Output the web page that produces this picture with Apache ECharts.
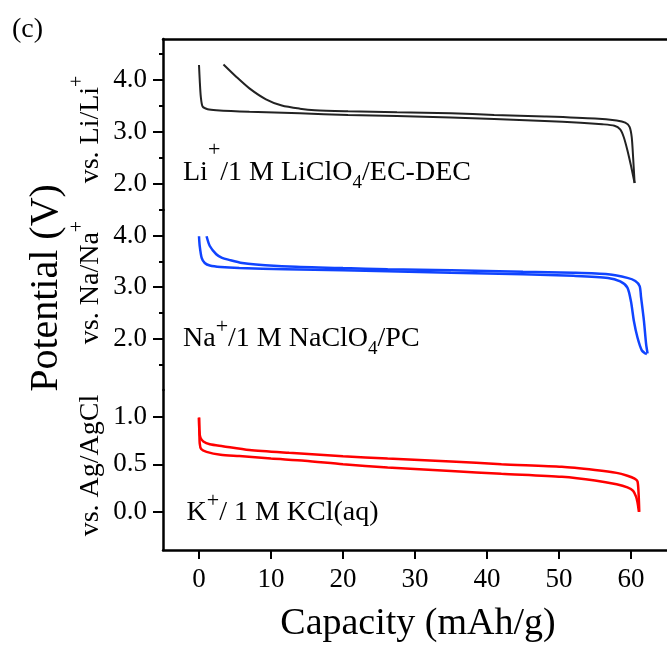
<!DOCTYPE html>
<html>
<head>
<meta charset="utf-8">
<script src="https://cdn.jsdelivr.net/npm/echarts@6/dist/echarts.min.js"></script>
<style>
  html, body { margin: 0; padding: 0; background: #fff; }
  #chart { width: 667px; height: 646px; }
</style>
</head>
<body>
<div id="chart"></div>
<script>
// Capacity (mAh/g) vs potential (V) for three electrolytes

const capacityTicks = [0, 10, 20, 30, 40, 50, 60];
const liTicks = [2.0, 3.0, 4.0];
const liMinorTicks = [1.5, 2.5, 3.5, 4.5];
const naTicks = [2.0, 3.0, 4.0];
const naMinorTicks = [1.5, 2.5, 3.5, 4.5];
const kTicks = [0.0, 0.5, 1.0];

// Li+ / 1 M LiClO4 / EC-DEC  (V vs. Li/Li+)
const liDischarge = [
  [0, 4.29], [0.1, 4.0], [0.25, 3.68], [0.5, 3.49], [1.2, 3.44], [2.4, 3.42],
  [7, 3.39], [14, 3.36], [20.7, 3.33], [27.5, 3.31], [35, 3.28], [41, 3.25],
  [48, 3.21], [53, 3.18], [56, 3.15], [57.7, 3.12], [58.5, 3.05], [59, 2.9],
  [59.5, 2.65], [60, 2.35], [60.5, 2.02]
];
const liCharge = [
  [3.4, 4.30], [5.2, 4.06], [7.0, 3.84], [9.3, 3.63], [11.5, 3.51], [14, 3.45],
  [16.1, 3.42], [20.7, 3.40], [27.5, 3.38], [35, 3.36], [41, 3.33], [48, 3.30],
  [55, 3.26], [58, 3.22], [59.2, 3.18], [59.8, 3.10], [60.1, 2.9], [60.3, 2.5],
  [60.5, 2.02]
];

// Na+ / 1 M NaClO4 / PC  (V vs. Na/Na+)
const naDischarge = [
  [0, 3.99], [0.1, 3.80], [0.37, 3.57], [0.8, 3.47], [1.5, 3.42], [3, 3.39],
  [5.6, 3.37], [12, 3.35], [20, 3.33], [26.2, 3.31], [35, 3.28], [45, 3.25],
  [52, 3.22], [56.8, 3.18], [58.5, 3.11], [59.5, 2.99], [60, 2.72], [60.4, 2.34],
  [60.9, 2.02], [61.5, 1.77], [62, 1.71], [62.2, 1.70]
];
const naCharge = [
  [1.05, 3.99], [1.5, 3.80], [2.4, 3.64], [3.2, 3.57], [4.2, 3.53], [6, 3.47],
  [7.9, 3.44], [12.5, 3.40], [20, 3.37], [26.2, 3.35], [35, 3.33], [45, 3.30],
  [52, 3.28], [56.8, 3.25], [59.5, 3.18], [60.6, 3.12], [61.2, 3.02], [61.4, 2.80],
  [61.8, 2.34], [62.1, 1.89], [62.3, 1.71]
];

// K+ / 1 M KCl(aq)  (V vs. Ag/AgCl)
const kDischarge = [
  [0, 0.99], [0.05, 0.85], [0.1, 0.72], [0.3, 0.66], [1.05, 0.63], [3, 0.60],
  [5.6, 0.586], [10, 0.56], [14.7, 0.537], [20, 0.50], [26.2, 0.467], [35, 0.43],
  [42, 0.40], [50.4, 0.368], [55, 0.33], [58, 0.29], [59.5, 0.257], [60.3, 0.22],
  [60.7, 0.16], [60.9, 0.10], [61.1, 0.0]
];
const kCharge = [
  [0, 0.99], [0.05, 0.85], [0.2, 0.78], [0.6, 0.74], [1.5, 0.71], [3.3, 0.69],
  [7, 0.65], [12.5, 0.62], [20, 0.585], [26.2, 0.56], [35, 0.53], [42, 0.50],
  [50.4, 0.474], [55, 0.44], [58, 0.41], [59.5, 0.38], [60.5, 0.35], [60.9, 0.32],
  [61.05, 0.20], [61.15, 0.0]
];

const SERIF = "'Liberation Serif', 'Times New Roman', Times, serif";
const BLACK = '#222222';
const BLUE = '#1044ff';
const RED = '#ff0000';

const chart = echarts.init(document.getElementById('chart'), null, { renderer: 'canvas' });

const axisLineStyle = { show: true, onZero: false, lineStyle: { color: '#000', width: 2.5 } };

function majorYAxis(gridIndex, min, max, ticks) {
  return {
    type: 'value', gridIndex, position: 'left', min, max,
    axisLine: axisLineStyle,
    axisTick: { show: true, inside: false, length: 10, customValues: ticks,
      lineStyle: { color: '#000', width: 2 } },
    axisLabel: { show: true, customValues: ticks, margin: 16,
      formatter: v => Number(v).toFixed(1),
      fontFamily: SERIF, fontSize: 27, color: '#000' },
    splitLine: { show: false }
  };
}
function minorYAxis(gridIndex, min, max, ticks) {
  return {
    type: 'value', gridIndex, position: 'left', min, max,
    axisLine: { show: false, onZero: false },
    axisTick: { show: true, inside: false, length: 4, customValues: ticks,
      lineStyle: { color: '#000', width: 2 } },
    axisLabel: { show: false },
    splitLine: { show: false }
  };
}
function hiddenXAxis(gridIndex, showTopLine) {
  return {
    type: 'value', gridIndex, min: -5, max: 65,
    position: showTopLine ? 'top' : 'bottom',
    axisLine: showTopLine ? axisLineStyle : { show: false, onZero: false },
    axisTick: { show: false }, axisLabel: { show: false }, splitLine: { show: false }
  };
}
function curve(name, data, color, width, idx) {
  return {
    name, type: 'line', data, xAxisIndex: idx.x, yAxisIndex: idx.y,
    showSymbol: false, symbol: 'none', smooth: 0.25,
    lineStyle: { color, width }, z: 3
  };
}

// superscript / subscript styling for the electrolyte labels
function annotationRich(color, mainPad, supPad, subPad) {
  return {
    m: { fontFamily: SERIF, fontSize: 28, height: 28, color, padding: [mainPad, 0, 0, 0], verticalAlign: 'top' },
    sp: { fontFamily: SERIF, fontSize: 22, height: 22, color, padding: [supPad, 0, 0, 0], verticalAlign: 'top' },
    sb: { fontFamily: SERIF, fontSize: 19, height: 19, color, padding: [subPad, 0, 0, 0], verticalAlign: 'top' }
  };
}
const vsRich = {
  m: { fontFamily: SERIF, fontSize: 28, height: 28, color: '#000', padding: [9, 0, 0, 0], verticalAlign: 'top' },
  sp: { fontFamily: SERIF, fontSize: 20, height: 20, color: '#000', padding: [0, 0, 0, 0], verticalAlign: 'top' }
};

const option = {
  animation: false,
  backgroundColor: '#fff',
  grid: [
    { left: 163, right: -7, top: 39, height: 171 },
    { left: 163, right: -7, top: 210, height: 180 },
    { left: 163, right: -7, top: 390, height: 160 }
  ],
  xAxis: [
    hiddenXAxis(0, true),
    hiddenXAxis(1, false),
    {
      type: 'value', gridIndex: 2, min: -5, max: 65, position: 'bottom',
      axisLine: axisLineStyle,
      axisTick: { show: true, inside: false, length: 9, customValues: capacityTicks,
        lineStyle: { color: '#000', width: 2 } },
      axisLabel: { show: true, customValues: capacityTicks, margin: 16,
        fontFamily: SERIF, fontSize: 27, color: '#000' },
      splitLine: { show: false }
    }
  ],
  yAxis: [
    majorYAxis(0, 1.5, 4.79, liTicks),
    minorYAxis(0, 1.5, 4.79, liMinorTicks),
    majorYAxis(1, 1.0, 4.5, naTicks),
    minorYAxis(1, 1.0, 4.5, naMinorTicks),
    majorYAxis(2, -0.4, 1.28, kTicks)
  ],
  series: [
    curve('Li discharge', liDischarge, BLACK, 2, { x: 0, y: 0 }),
    curve('Li charge', liCharge, BLACK, 2, { x: 0, y: 0 }),
    curve('Na discharge', naDischarge, BLUE, 2.5, { x: 1, y: 2 }),
    curve('Na charge', naCharge, BLUE, 2.5, { x: 1, y: 2 }),
    curve('K discharge', kDischarge, RED, 2.5, { x: 2, y: 4 }),
    curve('K charge', kCharge, RED, 2.5, { x: 2, y: 4 })
  ],
  graphic: [
    { type: 'text', x: 27.5, y: 30,
      style: { text: '(c)', font: '28px ' + SERIF, fill: '#000', align: 'center', verticalAlign: 'middle' } },
    { type: 'text', x: 46.5, y: 288, rotation: Math.PI / 2,
      style: { text: 'Potential (V)', font: '40px ' + SERIF, fill: '#000', align: 'center', verticalAlign: 'middle' } },
    { type: 'text', x: 418, y: 624,
      style: { text: 'Capacity (mAh/g)', font: '38px ' + SERIF, fill: '#000', align: 'center', verticalAlign: 'middle' } },
    { type: 'text', x: 67.5, y: 129.5, rotation: Math.PI / 2,
      style: { text: '{m|vs. Li/Li}{sp|+}', rich: vsRich, align: 'center', verticalAlign: 'top' } },
    { type: 'text', x: 67.5, y: 282.5, rotation: Math.PI / 2,
      style: { text: '{m|vs. Na/Na}{sp|+}', rich: vsRich, align: 'center', verticalAlign: 'top' } },
    { type: 'text', x: 67.5, y: 465.5, rotation: Math.PI / 2,
      style: { text: '{m|vs. Ag/AgCl}', rich: vsRich, align: 'center', verticalAlign: 'top' } },
    { type: 'text', x: 183, y: 138.3,
      style: { text: '{m|Li}{sp|+}{m|/1 M LiClO}{sb|4}{m|/EC-DEC}',
        rich: annotationRich(BLACK, 20, 0.5, 35.5), align: 'left', verticalAlign: 'top' } },
    { type: 'text', x: 183, y: 315.9,
      style: { text: '{m|Na}{sp|+}{m|/1 M NaClO}{sb|4}{m|/PC}',
        rich: annotationRich(BLUE, 9, 0.5, 23.5), align: 'left', verticalAlign: 'top' } },
    { type: 'text', x: 186.5, y: 489.3,
      style: { text: '{m|K}{sp|+}{m|/ 1 M KCl(aq)}',
        rich: annotationRich(RED, 9, 0.5, 23.5), align: 'left', verticalAlign: 'top' } }
  ]
};

chart.setOption(option);
</script>
</body>
</html>
